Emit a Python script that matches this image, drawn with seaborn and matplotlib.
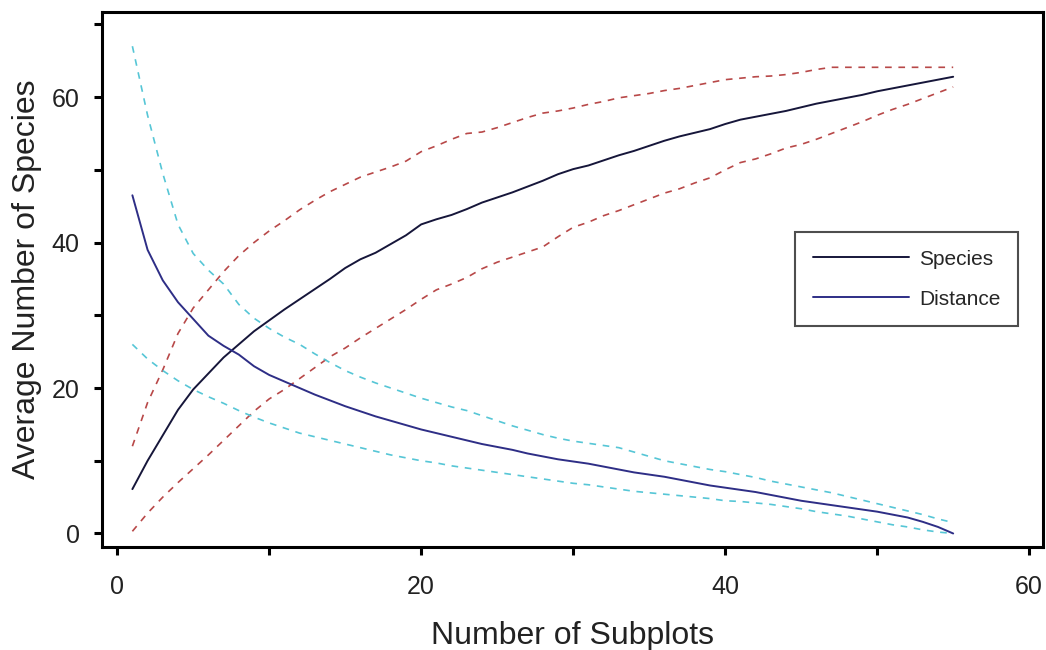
import numpy as np
import pandas as pd
import matplotlib
matplotlib.use("Agg")
import matplotlib.pyplot as plt
import seaborn as sns
from matplotlib.ticker import MultipleLocator

subplots = list(range(1, 56))

species_mean = [6.1, 10.0, 13.5, 17.0, 19.8, 22.0, 24.2, 26.0, 27.8, 29.3,
                30.8, 32.2, 33.6, 35.0, 36.5, 37.7, 38.6, 39.8, 41.0, 42.5,
                43.2, 43.8, 44.6, 45.5, 46.2, 46.9, 47.7, 48.5, 49.4, 50.1,
                50.6, 51.3, 52.0, 52.6, 53.3, 54.0, 54.6, 55.1, 55.6, 56.3,
                56.9, 57.3, 57.7, 58.1, 58.6, 59.1, 59.5, 59.9, 60.3, 60.8,
                61.2, 61.6, 62.0, 62.4, 62.8]
species_upper = [12.0, 18.0, 22.5, 27.5, 31.0, 33.5, 36.0, 38.2, 40.0, 41.6,
                 43.0, 44.5, 45.8, 47.0, 48.0, 49.0, 49.7, 50.4, 51.2, 52.5,
                 53.3, 54.2, 55.0, 55.2, 55.8, 56.5, 57.2, 57.8, 58.1, 58.5,
                 59.0, 59.4, 59.9, 60.2, 60.5, 60.9, 61.2, 61.6, 62.0, 62.4,
                 62.6, 62.8, 62.9, 63.1, 63.4, 63.8, 64.1, 64.1, 64.1, 64.1,
                 64.1, 64.1, 64.1, 64.1, 64.1]
species_lower = [0.3, 2.8, 5.0, 7.0, 8.9, 10.8, 12.8, 14.8, 16.8, 18.5,
                 19.8, 21.3, 22.8, 24.3, 25.5, 26.9, 28.2, 29.5, 30.8, 32.2,
                 33.5, 34.3, 35.2, 36.4, 37.3, 38.0, 38.7, 39.4, 40.8, 42.1,
                 42.8, 43.7, 44.4, 45.2, 46.0, 46.8, 47.4, 48.2, 48.9, 50.0,
                 51.0, 51.5, 52.2, 53.0, 53.5, 54.2, 55.0, 55.8, 56.6, 57.5,
                 58.3, 59.0, 59.8, 60.6, 61.4]
distance_mean = [46.5, 39.0, 34.8, 31.8, 29.5, 27.2, 25.8, 24.6, 23.0, 21.8,
                 20.9, 20.0, 19.1, 18.3, 17.5, 16.8, 16.1, 15.5, 14.9, 14.3,
                 13.8, 13.3, 12.8, 12.3, 11.9, 11.5, 11.0, 10.6, 10.2, 9.9,
                 9.6, 9.2, 8.8, 8.4, 8.1, 7.8, 7.4, 7.0, 6.6, 6.3,
                 6.0, 5.7, 5.3, 4.9, 4.5, 4.2, 3.9, 3.6, 3.3, 3.0,
                 2.6, 2.2, 1.6, 0.9, 0.0]
distance_upper = [67.0, 57.5, 49.5, 42.5, 38.5, 36.2, 34.3, 31.5, 29.6, 28.2,
                  27.0, 26.0, 24.7, 23.5, 22.4, 21.5, 20.7, 20.0, 19.3, 18.6,
                  18.0, 17.4, 16.9, 16.2, 15.5, 14.8, 14.2, 13.6, 13.1, 12.7,
                  12.4, 12.1, 11.8, 11.2, 10.6, 10.0, 9.6, 9.2, 8.8, 8.5,
                  8.1, 7.7, 7.2, 6.8, 6.4, 6.0, 5.6, 5.1, 4.6, 4.1,
                  3.6, 3.1, 2.6, 2.0, 1.5]
distance_lower = [26.0, 24.0, 22.4, 21.0, 19.8, 18.8, 17.9, 16.9, 16.0, 15.2,
                  14.5, 13.8, 13.3, 12.8, 12.3, 11.8, 11.3, 10.8, 10.4, 10.0,
                  9.7, 9.3, 9.0, 8.7, 8.4, 8.1, 7.8, 7.5, 7.2, 6.9,
                  6.7, 6.4, 6.1, 5.8, 5.6, 5.4, 5.2, 5.0, 4.8, 4.5,
                  4.4, 4.2, 4.0, 3.7, 3.4, 3.0, 2.7, 2.4, 2.0, 1.6,
                  1.2, 0.9, 0.5, 0.2, 0.0]

x_ticks = [0, 20, 40, 60]
y_ticks = [0, 20, 40, 60]

sns.set_style("white")
plt.rcParams['font.family'] = ['Liberation Sans', 'DejaVu Sans']

df = pd.DataFrame({"x": subplots,
                   "species": species_mean, "sp_hi": species_upper, "sp_lo": species_lower,
                   "distance": distance_mean, "d_hi": distance_upper, "d_lo": distance_lower})

fig = plt.figure(figsize=(10.46, 6.5), dpi=100)
ax = fig.add_axes([0.0975, 0.158, 0.8995, 0.8235])

red = "#b84848"
cyan = "#56c6d6"
dash = (0, (4, 4))
sns.lineplot(data=df, x="x", y="sp_hi", ax=ax, color=red, lw=1.2, linestyle=dash, estimator=None)
sns.lineplot(data=df, x="x", y="sp_lo", ax=ax, color=red, lw=1.2, linestyle=dash, estimator=None)
sns.lineplot(data=df, x="x", y="d_hi", ax=ax, color=cyan, lw=1.2, linestyle=dash, estimator=None)
sns.lineplot(data=df, x="x", y="d_lo", ax=ax, color=cyan, lw=1.2, linestyle=dash, estimator=None)
sns.lineplot(data=df, x="x", y="species", ax=ax, color="#16163a", lw=1.4, estimator=None, label="Species")
sns.lineplot(data=df, x="x", y="distance", ax=ax, color="#2e2e86", lw=1.4, estimator=None, label="Distance")

ax.set_xlim(-1, 60.9)
ax.set_ylim(-1.9, 71.7)
ax.set_xticks(x_ticks)
ax.set_yticks(y_ticks)
ax.xaxis.set_minor_locator(MultipleLocator(10))
ax.yaxis.set_minor_locator(MultipleLocator(10))
for s in ax.spines.values():
    s.set_linewidth(2.2)
    s.set_color("black")
ax.tick_params(axis="both", which="both", direction="out", length=6, width=2.2,
               color="black", bottom=True, left=True)
ax.tick_params(axis="x", which="major", labelsize=18, pad=14, labelcolor="#222222")
ax.tick_params(axis="y", which="major", labelsize=18, pad=10, labelcolor="#222222")

ax.set_xlabel("Number of Subplots", fontsize=23, color="#222222", labelpad=16)
ax.set_ylabel("Average Number of Species", fontsize=23, color="#222222", labelpad=7)

leg = ax.legend(loc="upper left", bbox_to_anchor=(0.737, 0.589), fontsize=15,
                frameon=True, fancybox=False, handlelength=4.6, borderpad=0.85,
                labelspacing=1.0, handletextpad=0.5, borderaxespad=0)
leg.get_frame().set_edgecolor("#222222")
leg.get_frame().set_linewidth(1.5)

fig.savefig("out.png", dpi=100, facecolor="white")
